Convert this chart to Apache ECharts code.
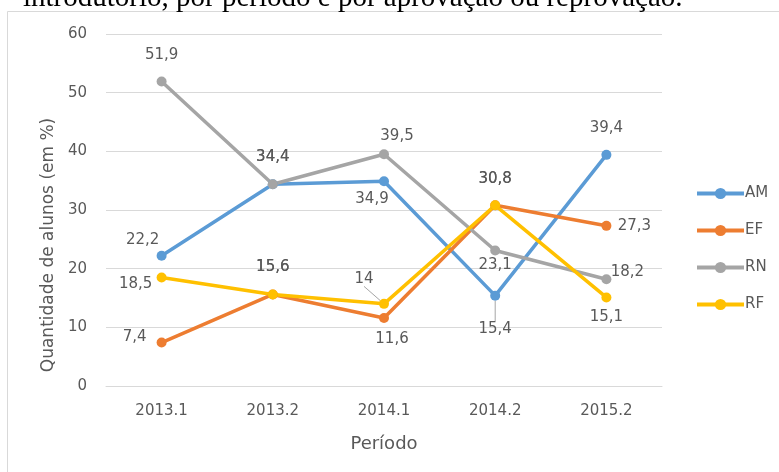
<!DOCTYPE html>
<html>
<head>
<meta charset="utf-8">
<script src="https://cdn.jsdelivr.net/npm/echarts@6/dist/echarts.min.js"></script>
<style>
  html, body { margin: 0; padding: 0; background: #fff; }
  #main { width: 779px; height: 472px; }
</style>
</head>
<body>
<div id="main"></div>
<script>
    // valores
    const categories = ['2013.1', '2013.2', '2014.1', '2014.2', '2015.2'];
    const amValues = [22.2, 34.4, 34.9, 15.4, 39.4];
    const efValues = [7.4, 15.6, 11.6, 30.8, 27.3];
    const rnValues = [51.9, 34.4, 39.5, 23.1, 18.2];
    const rfValues = [18.5, 15.6, 14, 30.8, 15.1];
    const yMin = 0;
    const yMax = 60;
    const yStep = 10;

    // deslocamento dos rótulos em relação ao ponto
    const amOffsets = [[-19, -16], [0, -27], [-12, 18], [0, 33], [0, -27]];
    const efOffsets = [[-27, -5], [0, -27], [8, 21], [0, -26], [28, 0]];
    const rnOffsets = [[0, -26], [0, -27], [13, -18], [0, 15], [21, -7]];
    const rfOffsets = [[-26, 7], [0, -27], [-20, -25], [0, -26], [0, 20]];

    const textColor = '#595959';
    const font = 'DejaVu Sans';

    function makeSeries(name, color, values, offsets, leaderIdx) {
        return {
            name: name,
            type: 'line',
            color: color,
            symbol: 'circle',
            symbolSize: 10,
            lineStyle: { width: 3.5, color: color },
            itemStyle: { color: color },
            label: {
                show: true,
                position: 'inside',
                align: 'center',
                verticalAlign: 'middle',
                color: textColor,
                fontFamily: font,
                fontSize: 15,
                formatter: p => String(p.value).replace('.', ',')
            },
            data: values.map((v, i) => ({
                value: v,
                label: { offset: offsets[i] },
                labelLine: { show: leaderIdx === i, lineStyle: { color: '#a5a5a5', width: 1 } }
            }))
        };
    }

    const chart = echarts.init(document.getElementById('main'));

    const option = {
        backgroundColor: '#fff',
        animation: false,
        textStyle: { fontFamily: font },
        graphic: [
            {
                type: 'text',
                left: 23,
                top: -16,
                z: 10,
                style: {
                    text: 'introdutório, por período e por aprovação ou reprovação.',
                    font: '29px "Liberation Serif"',
                    fill: '#000'
                }
            },
            {
                type: 'rect',
                shape: { x: 7.5, y: 11.5, width: 800, height: 500 },
                style: { fill: 'none', stroke: '#d9d9d9', lineWidth: 1 },
                z: -10
            }
        ],
        grid: { left: 106, right: 117, top: 34, bottom: 86 },
        legend: {
            orient: 'vertical',
            left: 690,
            top: 181,
            itemWidth: 47,
            itemHeight: 14,
            itemGap: 22,
            lineStyle: { width: 4 },
            itemStyle: { borderWidth: 0 },
            textStyle: { color: textColor, fontFamily: font, fontSize: 15, padding: [0, 0, 0, -4] },
            data: ['AM', 'EF', 'RN', 'RF']
        },
        xAxis: {
            type: 'category',
            data: categories,
            boundaryGap: true,
            name: 'Período',
            nameLocation: 'middle',
            nameGap: 49,
            nameTextStyle: { color: textColor, fontFamily: font, fontSize: 18 },
            axisLine: { lineStyle: { color: '#d9d9d9' } },
            axisTick: { show: false },
            axisLabel: { color: textColor, fontFamily: font, fontSize: 15, margin: 18 }
        },
        yAxis: {
            type: 'value',
            min: yMin,
            max: yMax,
            interval: yStep,
            name: 'Quantidade de alunos (em %)',
            nameLocation: 'middle',
            nameRotate: 90,
            nameGap: 45,
            nameTextStyle: { color: textColor, fontFamily: font, fontSize: 17, padding: [0, 70, 0, 0] },
            axisLine: { show: false },
            axisTick: { show: false },
            axisLabel: { color: textColor, fontFamily: font, fontSize: 15, margin: 19 },
            splitLine: { lineStyle: { color: '#d9d9d9', width: 1 } }
        },
        series: [
            makeSeries('AM', '#5b9bd5', amValues, amOffsets, 3),
            makeSeries('EF', '#ed7d31', efValues, efOffsets, -1),
            makeSeries('RN', '#a5a5a5', rnValues, rnOffsets, -1),
            makeSeries('RF', '#ffc000', rfValues, rfOffsets, 2)
        ]
    };

    chart.setOption(option);
</script>
</body>
</html>
